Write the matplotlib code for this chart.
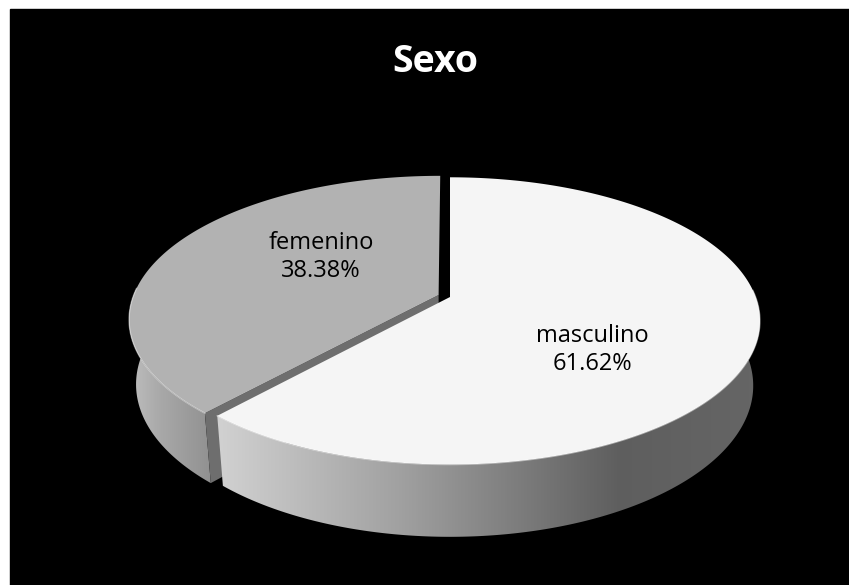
import numpy as np
import matplotlib
matplotlib.use("Agg")
import matplotlib.pyplot as plt
from matplotlib.patches import Polygon, Rectangle

# data
categories = ["masculino", "femenino"]
percent = [61.62, 38.38]
top_colors = ["#f5f5f5", "#b2b2b2"]
title = "Sexo"

# 3D look (perspective camera)
W, H = 849, 585
cx, cy = 450, 297          # screen position of pie centre
phi = np.radians(27.8)
s, c = np.sin(phi), np.cos(phi)
D = 5.31
f, fx = 1590.0, 1623.0
depth = 0.247
explode = [0.0, 0.04]

# wall shading: (x pixel, grey level) stops
wall_stops = [
    ([218, 400, 560, 620, 770], [0.82, 0.63, 0.44, 0.37, 0.40]),
    ([125, 160, 215], [0.76, 0.66, 0.56]),
]


def proj(X, Z, Y=0.0):
    zc = D - Z * c - Y * s
    yc = Z * s - Y * c
    return cx + fx * X / zc, cy + f * yc / zc


def rim(t, dx, dz, Y=0.0):
    X = np.cos(t) + dx
    Z = -np.sin(t) + dz
    return np.column_stack(proj(X, Z, Y))


fig = plt.figure(figsize=(W / 100, H / 100), dpi=100)
fig.patch.set_facecolor("white")
ax = fig.add_axes([0, 0, 1, 1])
ax.set_xlim(0, W)
ax.set_ylim(H, 0)
ax.axis("off")
ax.add_patch(Rectangle((10, 9), W - 10, H - 9, color="black", zorder=0))

# angles: clockwise from 12 o'clock
fracs = np.array(percent) / sum(percent)
starts = np.concatenate([[0], np.cumsum(fracs)[:-1]]) * 360
ends = starts + fracs * 360

order = [1, 0]  # draw the back-left slice first
for k, i in enumerate(order):
    z0 = 1 + 5 * k
    a1, a2 = starts[i], ends[i]
    mid = np.radians(90 - (a1 + a2) / 2)
    dx = explode[i] * np.cos(mid)
    dz = -explode[i] * np.sin(mid)
    t = np.radians(90 - np.linspace(a1, a2, 400))
    top = rim(t, dx, dz)

    # outer wall with gradient, front half only
    tf = t[-np.sin(t) > -0.05]
    wt = rim(tf, dx, dz)
    wb = rim(tf, dx, dz, -depth)
    wall = Polygon(np.vstack([wt, wb[::-1]]), closed=True,
                   facecolor="none", edgecolor="none")
    ax.add_patch(wall)
    xs = np.linspace(0, W, 400)
    g = np.interp(xs, *wall_stops[i])
    img = np.repeat(g[None, :, None], 3, axis=2)
    im = ax.imshow(img, extent=[0, W, H, 0], aspect="auto", zorder=z0)
    im.set_clip_path(wall)

    # cut face at the start of the slice (the one facing the viewer)
    if i == 1:
        te = np.radians(90 - a1)
        ct = np.array(proj(dx, dz))
        cb = np.array(proj(dx, dz, -depth))
        rt = rim(np.array([te]), dx, dz)[0]
        rb = rim(np.array([te]), dx, dz, -depth)[0]
        ax.add_patch(Polygon([ct, rt, rb, cb], closed=True,
                             facecolor="#6e6e6e", edgecolor="none",
                             zorder=z0 + 1))

    # top face
    centre = np.array(proj(dx, dz))
    face = np.vstack([centre, top])
    ax.add_patch(Polygon(face, closed=True, facecolor=top_colors[i],
                         edgecolor="none", zorder=z0 + 2))
    # soft highlight on the front rim
    front = top[np.sin(t) < 0.05]
    if len(front):
        ax.plot(front[:, 0], front[:, 1], color="white", lw=1.0,
                alpha=0.45, zorder=z0 + 3)

# labels
label_pos = [(592, 350), (321, 257)]
for i, name in enumerate(categories):
    ax.text(*label_pos[i], f"{name}\n{percent[i]:.2f}%", ha="center",
            va="center", fontsize=17, family="Open Sans", color="black",
            linespacing=1.25, zorder=20)

ax.text(435, 62, title, ha="center", va="center", fontsize=27,
        family="Open Sans", fontweight="bold", color="white", zorder=20)

fig.savefig("out.png", dpi=100, facecolor=fig.get_facecolor())
